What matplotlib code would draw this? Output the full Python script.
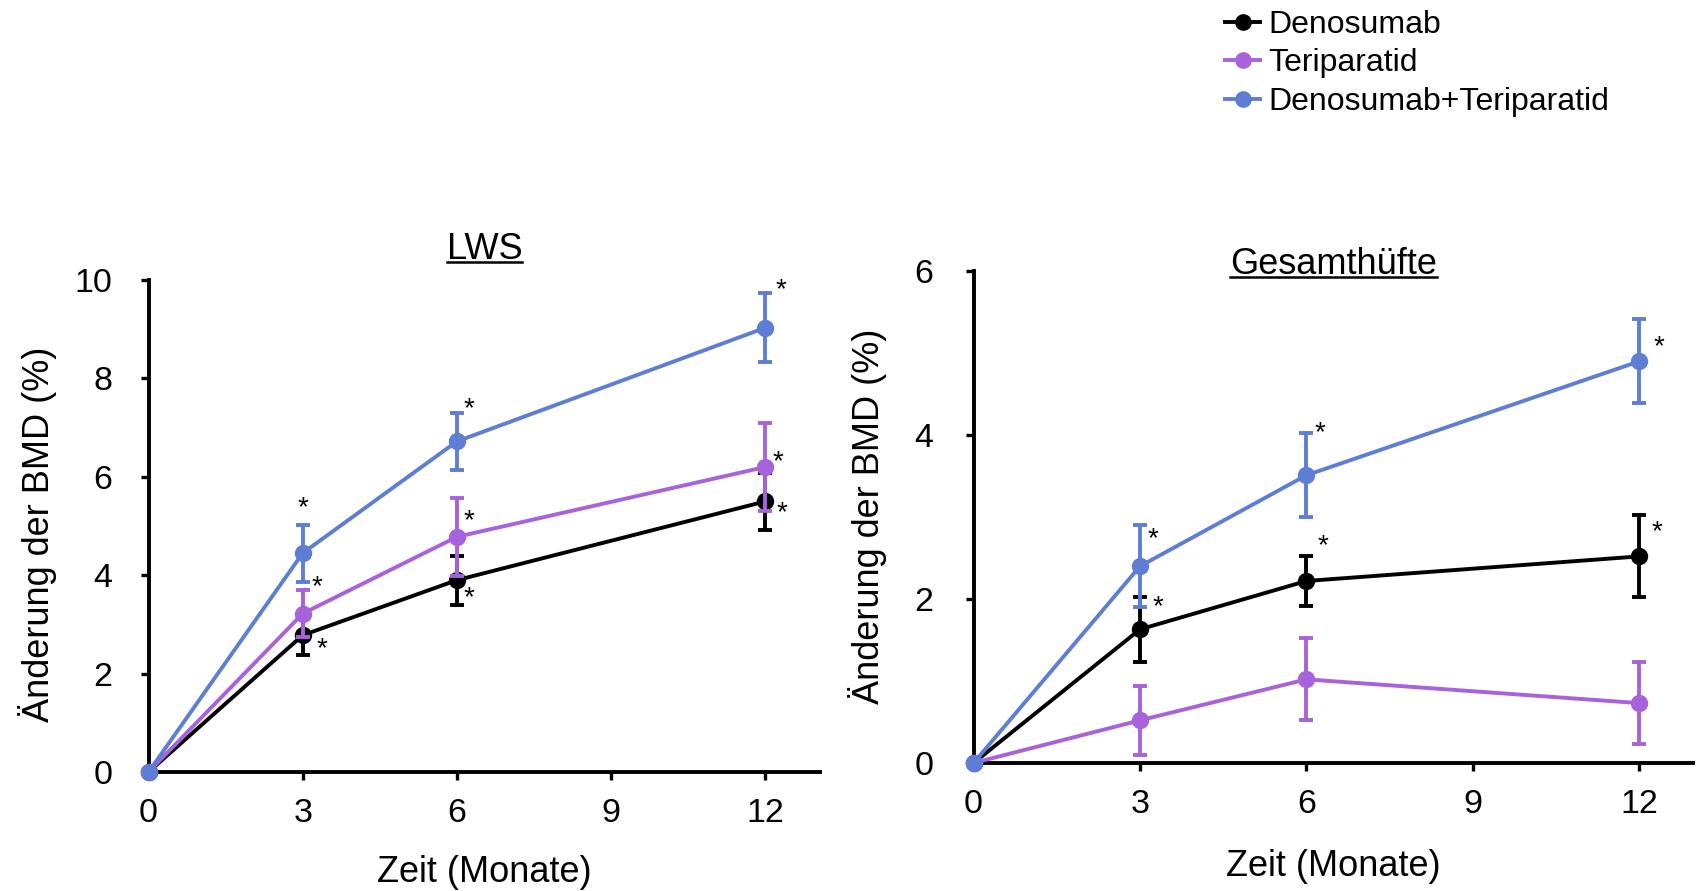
import matplotlib
matplotlib.use("Agg")
import matplotlib.pyplot as plt
from matplotlib.lines import Line2D

plt.rcParams['font.family'] = ['Liberation Sans', 'DejaVu Sans']

# ---------------- data ----------------
months = [0, 3, 6, 12]
series_names = ["Denosumab", "Teriparatid", "Denosumab+Teriparatid"]
series_colors = ["#000000", "#A862DC", "#5D7ED4"]

# LWS (lumbar spine)
lws_deno = [0, 2.78, 3.90, 5.50]
lws_deno_err = [0, 0.40, 0.50, 0.58]
lws_teri = [0, 3.22, 4.78, 6.20]
lws_teri_err = [0, 0.47, 0.80, 0.90]
lws_comb = [0, 4.45, 6.72, 9.03]
lws_comb_err = [0, 0.58, 0.58, 0.70]
lws_star_x = [3.0, 6.23, 12.3, 3.28, 6.23, 12.25, 3.38, 6.23, 12.33]
lws_star_y = [5.55, 7.55, 9.98, 3.93, 5.28, 6.48, 2.67, 3.72, 5.44]

# Gesamthüfte (total hip)
hip_deno = [0, 1.63, 2.22, 2.52]
hip_deno_err = [0, 0.40, 0.30, 0.50]
hip_teri = [0, 0.52, 1.02, 0.73]
hip_teri_err = [0, 0.42, 0.50, 0.50]
hip_comb = [0, 2.40, 3.51, 4.90]
hip_comb_err = [0, 0.50, 0.51, 0.51]
hip_star_x = [3.24, 6.25, 12.35, 3.32, 6.3, 12.31]
hip_star_y = [2.84, 4.13, 5.18, 2.01, 2.75, 2.92]

x_ticks = [0, 3, 6, 9, 12]
lws_yticks = [0, 2, 4, 6, 8, 10]
hip_yticks = [0, 2, 4, 6]

# ---------------- figure ----------------
fig = plt.figure(figsize=(17, 8.91), dpi=100)
ax1 = fig.add_axes([0.0874, 0.1336, 0.395, 0.552])
ax2 = fig.add_axes([0.5727, 0.1437, 0.4232, 0.552])

LW = 2.8
MS = 11.5
FS_TICK = 24.5
FS_LAB = 26


def draw_panel(ax, data, xmax, ymax, yticks, title, title_y, star_x, star_y,
               ylab_x, ylab_y, xlab_y, tick_pad_y, tick_pad_x):
    # draw order: Teriparatid, Denosumab, Combined (combined on top)
    for idx in [1, 0, 2]:
        y, e = data[idx]
        ax.errorbar(months, y, yerr=e, color=series_colors[idx], lw=LW,
                    marker='o', markersize=MS, elinewidth=LW, capsize=5,
                    capthick=LW, zorder=3 + idx, clip_on=False)
    for sx, sy in zip(star_x, star_y):
        ax.annotate('*', (sx, sy), xytext=(0, -0.57 * 20), textcoords='offset points',
                    ha='center', va='baseline', fontsize=20, color='black')
    ax.set_xlim(0, xmax)
    ax.set_ylim(0, ymax)
    ax.set_xticks(x_ticks)
    ax.set_yticks(yticks)
    for s in ['top', 'right']:
        ax.spines[s].set_visible(False)
    for s in ['left', 'bottom']:
        ax.spines[s].set_linewidth(2.8)
    ax.tick_params(axis='both', direction='out', length=6, width=2.4,
                   labelsize=FS_TICK)
    ax.tick_params(axis='x', pad=tick_pad_x)
    ax.tick_params(axis='y', pad=tick_pad_y)
    ax.set_ylabel("Änderung der BMD (%)", fontsize=FS_LAB, va='center')
    ax.yaxis.set_label_coords(ylab_x, ylab_y)
    ax.set_xlabel("Zeit (Monate)", fontsize=FS_LAB, va='center')
    ax.xaxis.set_label_coords(0.5, xlab_y)
    t = ax.set_title(title, fontsize=FS_LAB, y=title_y, va='center')
    return t


t1 = draw_panel(ax1,
                [(lws_deno, lws_deno_err), (lws_teri, lws_teri_err), (lws_comb, lws_comb_err)],
                13.07, 10, lws_yticks, "LWS", 1.045, lws_star_x, lws_star_y,
                -0.165, 0.483, -0.205, 20, 13)
t2 = draw_panel(ax2,
                [(hip_deno, hip_deno_err), (hip_teri, hip_teri_err), (hip_comb, hip_comb_err)],
                12.97, 6, hip_yticks, "Gesamthüfte", 0.997, hip_star_x, hip_star_y,
                -0.148, 0.502, -0.21, 23, 13)

# legend
leg_handles = [Line2D([0], [0], color=c, lw=LW, marker='o', markersize=11) for c in series_colors]
fig.legend(leg_handles, series_names, loc='upper left', bbox_to_anchor=(0.7206, 0.989),
           frameon=False, fontsize=23, handlelength=1.1, handletextpad=0.25,
           labelspacing=0.27, borderpad=0, borderaxespad=0)

# underline titles
fig.canvas.draw()
renderer = fig.canvas.get_renderer()
for t in (t1, t2):
    bb = t.get_window_extent(renderer)
    em = t.get_fontsize() * fig.dpi / 72.0
    yline = bb.y0 + 0.13 * em
    fig.add_artist(Line2D([bb.x0 / fig.bbox.width, bb.x1 / fig.bbox.width],
                          [yline / fig.bbox.height, yline / fig.bbox.height],
                          color='black', lw=1.8, transform=fig.transFigure))

fig.savefig("out.png", dpi=100)
